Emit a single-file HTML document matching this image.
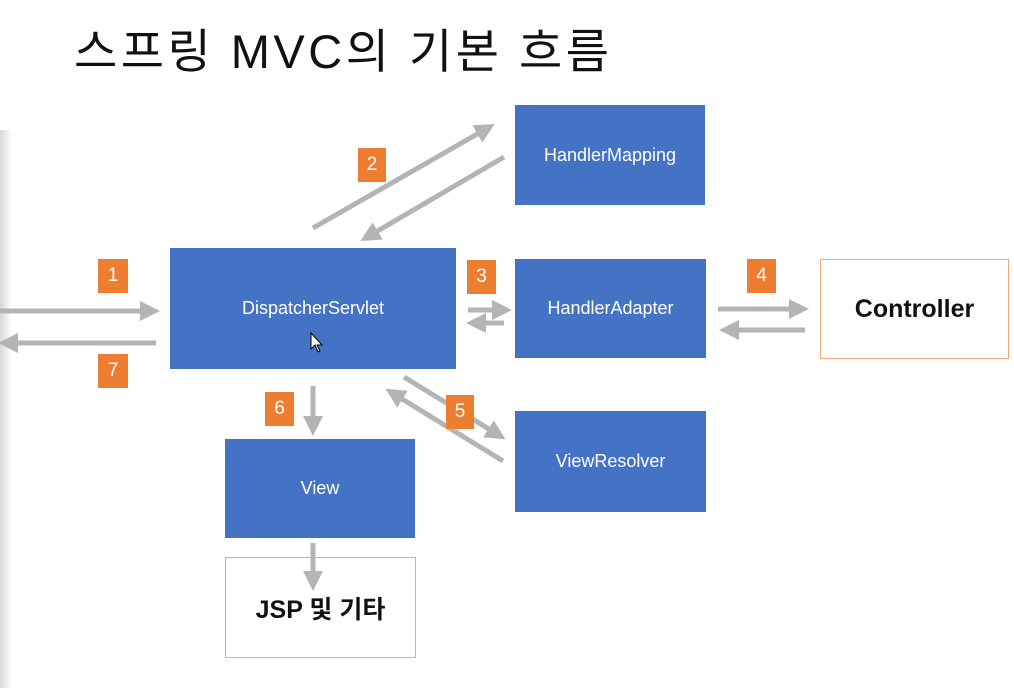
<!DOCTYPE html>
<html><head><meta charset="utf-8"><style>
body{margin:0;width:1014px;height:688px;background:#fff;position:relative;overflow:hidden;font-family:"Liberation Sans","Noto Sans CJK KR",sans-serif}
.t{position:absolute;left:74px;top:13px;font-size:47px;letter-spacing:3.5px;color:#111;font-family:"Liberation Sans","Noto Sans CJK KR",sans-serif}
.b{position:absolute;background:#4472c4;color:#fff;display:flex;align-items:center;justify-content:center;font-size:18px}
.o{position:absolute;border:1.5px solid #f0a878;background:#fff;display:flex;align-items:center;justify-content:center;font-weight:bold;font-size:25px;color:#111;box-sizing:border-box}
.n{position:absolute;width:30px;height:34px;background:#ed7d31;color:#fff;font-size:19px;display:flex;align-items:center;justify-content:center}
</style></head><body>
<div style="position:absolute;left:0;top:130px;width:12px;height:558px;background:linear-gradient(to right,#d8d8d8,#fff)"></div>
<div class="t">스프링 MVC의 기본 흐름</div>
<div class="b" style="left:515px;top:105px;width:190px;height:100px">HandlerMapping</div>
<div class="b" style="left:170px;top:248px;width:286px;height:121px">DispatcherServlet</div>
<div class="b" style="left:515px;top:259px;width:191px;height:99px">HandlerAdapter</div>
<div class="o" style="left:820px;top:259px;width:189px;height:100px">Controller</div>
<div class="b" style="left:515px;top:411px;width:191px;height:101px">ViewResolver</div>
<div class="b" style="left:225px;top:439px;width:190px;height:99px">View</div>
<div class="o" style="left:225px;top:557px;width:191px;height:101px">JSP 및 기타</div>
<svg width="1014" height="688" style="position:absolute;left:0;top:0">
<defs><marker id="a" markerWidth="4" markerHeight="4" refX="2" refY="2" orient="auto" markerUnits="strokeWidth"><path d="M0,0L4,2L0,4z" fill="#b4b4b4"/></marker></defs>
<g stroke="#b4b4b4" stroke-width="5" fill="none" marker-end="url(#a)">
<line x1="0" y1="311" x2="150" y2="311"/>
<line x1="156" y1="343" x2="8" y2="343"/>
<line x1="313" y1="228" x2="486" y2="129"/>
<line x1="504" y1="157" x2="369" y2="236"/>
<line x1="468" y1="310" x2="502" y2="310"/>
<line x1="504" y1="323" x2="476" y2="323"/>
<line x1="718" y1="309" x2="799" y2="309"/>
<line x1="805" y1="330" x2="729" y2="330"/>
<line x1="404" y1="377" x2="497" y2="434"/>
<line x1="503" y1="461" x2="394" y2="394"/>
<line x1="313" y1="386" x2="313" y2="426"/>
<line x1="313" y1="543" x2="313" y2="581"/>
</g>
<path d="M311,333l0,16l4,-4l3,7l2,-1l-3,-6l5,0z" fill="#fff" stroke="#000" stroke-width="1"/>
</svg>
<div class="n" style="left:98px;top:259px">1</div>
<div class="n" style="left:358px;top:148px;width:28px">2</div>
<div class="n" style="left:467px;top:260px;width:29px">3</div>
<div class="n" style="left:747px;top:259px;width:29px">4</div>
<div class="n" style="left:446px;top:395px;width:28px">5</div>
<div class="n" style="left:265px;top:392px;width:29px">6</div>
<div class="n" style="left:98px;top:354px">7</div>
</body></html>
